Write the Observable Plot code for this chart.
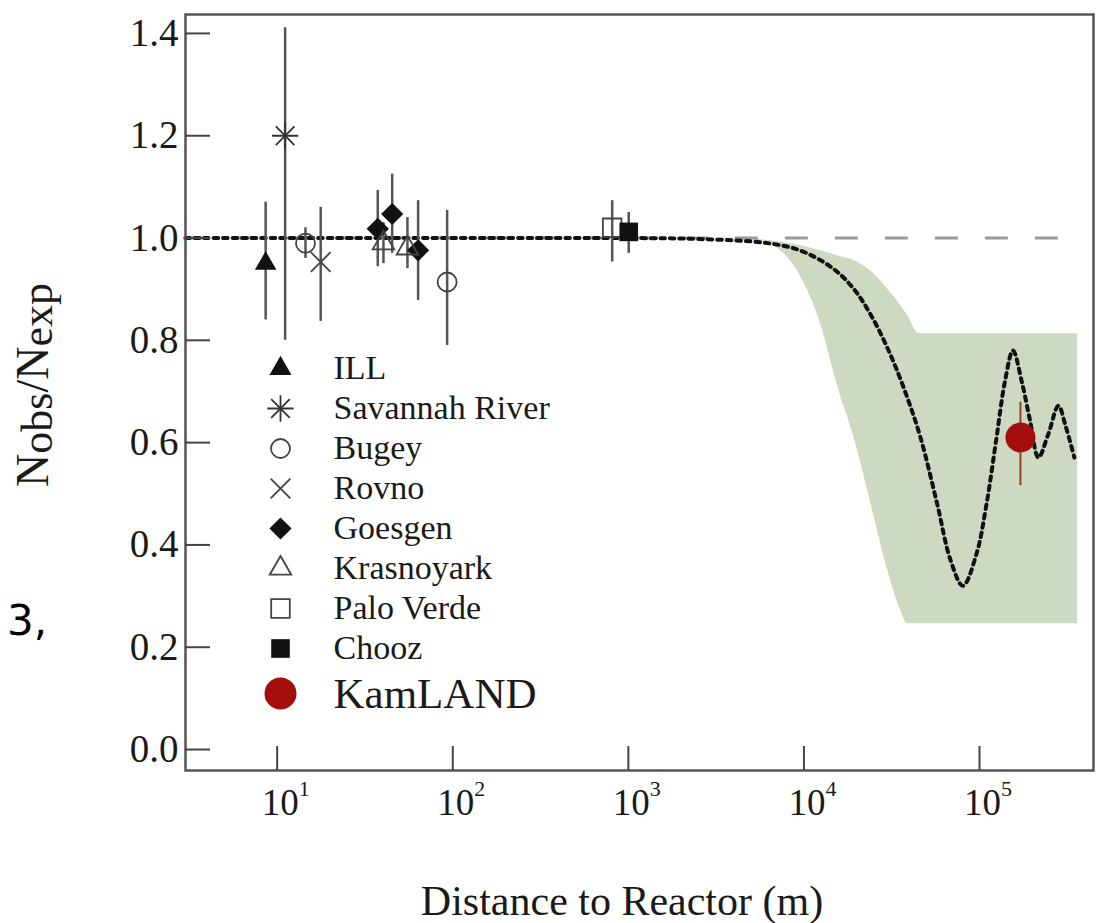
<!DOCTYPE html>
<html>
<head>
<meta charset="utf-8">
<script src="https://cdn.jsdelivr.net/npm/d3@7"></script>
<script src="https://cdn.jsdelivr.net/npm/@observablehq/plot@0.6"></script>
<style>
html, body { margin: 0; padding: 0; background: #fff; }
#wrap { position: relative; width: 1109px; height: 923px; overflow: hidden; background: #fff; }
#legend { position: absolute; left: 260px; top: 340px; }
</style>
</head>
<body>
<div id="wrap"><div id="chart"></div><div id="legend"></div></div>
<script>
// ---- data ----
const pointExperiment = ["ILL", "Savannah River", "Bugey", "Rovno", "Goesgen", "Krasnoyark", "Goesgen", "Krasnoyark", "Goesgen", "Bugey", "Palo Verde", "Chooz", "KamLAND"];
const pointDistance = [8.6, 11.1, 14.5, 17.7, 37.4, 40.3, 45.2, 55.2, 63.5, 92.9, 809, 1005, 171000];
const pointRatio    = [0.950, 1.200, 0.990, 0.953, 1.018, 0.990, 1.047, 0.980, 0.976, 0.914, 1.020, 1.012, 0.610];
const errLow        = [0.840, 0.800, 0.960, 0.837, 0.944, 0.950, 0.970, 0.940, 0.878, 0.790, 0.953, 0.970, 0.516];
const errHigh       = [1.070, 1.411, 1.020, 1.060, 1.093, 1.030, 1.125, 1.040, 1.073, 1.054, 1.073, 1.050, 0.679];

// oscillation curve (dotted)
const curveDistance = [3.0, 100, 1000, 2576, 6209, 9636, 14700, 19280, 24000, 29900, 37200, 46100, 57400, 68400, 80400, 96200, 109600, 125000, 139600, 155000, 173800, 194000, 216300, 246600, 281200, 310500, 346700];
const curveRatio    = [1.0, 1.0, 1.0, 0.998, 0.990, 0.975, 0.940, 0.900, 0.850, 0.785, 0.705, 0.610, 0.480, 0.370, 0.320, 0.383, 0.480, 0.610, 0.720, 0.780, 0.720, 0.643, 0.571, 0.617, 0.672, 0.630, 0.571];

// shaded allowed region
const bandDistance = [2576, 4966, 6209, 9636, 12510, 15630, 19280, 24100, 30000, 35560, 38990, 45080, 362100];
const bandUpper    = [1.0, 0.999, 0.995, 0.985, 0.975, 0.965, 0.956, 0.935, 0.900, 0.868, 0.848, 0.813, 0.813];
const bandLower    = [1.0, 0.996, 0.990, 0.923, 0.830, 0.708, 0.610, 0.480, 0.350, 0.272, 0.246, 0.246, 0.246];

const yTicks = [0.0, 0.2, 0.4, 0.6, 0.8, 1.0, 1.2, 1.4];
const xTicks = [10, 100, 1000, 10000, 100000];
const xTickExponents = ["1", "2", "3", "4", "5"];
const legendLabels = ["ILL", "Savannah River", "Bugey", "Rovno", "Goesgen", "Krasnoyark", "Palo Verde", "Chooz", "KamLAND"];

// ---- styles (a marker may be several stacked symbols) ----
const markerStyle = {
  "ILL":            [{symbol: "triangle", fill: "#111", stroke: "none", r: 8}],
  "Savannah River": [{symbol: "times", fill: "none", stroke: "#333", strokeWidth: 1.8, r: 8.5},
                     {symbol: "plus", fill: "none", stroke: "#333", strokeWidth: 1.8, r: 8.5}],
  "Bugey":          [{symbol: "circle", fill: "none", stroke: "#444", strokeWidth: 1.8, r: 9.5}],
  "Rovno":          [{symbol: "times", fill: "none", stroke: "#444", strokeWidth: 1.8, r: 9}],
  "Goesgen":        [{symbol: "diamond2", fill: "#111", stroke: "none", r: 10}],
  "Krasnoyark":     [{symbol: "triangle", fill: "none", stroke: "#444", strokeWidth: 1.8, r: 8}],
  "Palo Verde":     [{symbol: "square", fill: "none", stroke: "#444", strokeWidth: 1.8, r: 10.5}],
  "Chooz":          [{symbol: "square", fill: "#111", stroke: "none", r: 10.5}],
  "KamLAND":        [{symbol: "circle", fill: "#a50d0d", stroke: "none", r: 15}]
};

const points = pointExperiment.map((e, i) => ({exp: e, d: pointDistance[i], r: pointRatio[i], lo: errLow[i], hi: errHigh[i]}));
const curve = curveDistance.map((d, i) => ({d, r: curveRatio[i]}));
const band = bandDistance.map((d, i) => ({d, hi: bandUpper[i], lo: bandLower[i]}));

const serif = "'Liberation Serif', 'Times New Roman', serif";

const dotMarks = Object.keys(markerStyle).flatMap(exp =>
  markerStyle[exp].map(s => Plot.dot(points.filter(p => p.exp === exp), {x: "d", y: "r", ...s}))
);

const chart = Plot.plot({
  width: 1109,
  height: 923,
  marginLeft: 185,
  marginRight: 16,
  marginTop: 14,
  marginBottom: 153,
  style: {fontFamily: serif, background: "white", color: "#222"},
  x: {type: "log", domain: [3.006, 445700]},
  y: {domain: [-0.041, 1.437]},
  marks: [
    Plot.areaY(band, {x: "d", y1: "lo", y2: "hi", fill: "#cdd9c1", curve: "monotone-x"}),
    Plot.ruleY([1], {x1: d3.min(curveDistance), x2: d3.max(curveDistance), stroke: "#9a9a9a", strokeWidth: 3, strokeDasharray: "23,27"}),
    Plot.line(curve, {x: "d", y: "r", stroke: "#111", strokeWidth: 4, strokeDasharray: "4.5,5", curve: "catmull-rom"}),
    Plot.ruleX(points.filter(p => p.exp !== "KamLAND"), {x: "d", y1: "lo", y2: "hi", stroke: "#555", strokeWidth: 2.5}),
    Plot.ruleX(points.filter(p => p.exp === "KamLAND"), {x: "d", y1: "lo", y2: "hi", stroke: "#9b3a2a", strokeWidth: 2}),
    ...dotMarks,
    Plot.frame({stroke: "#555", strokeWidth: 2.5}),
    Plot.axisY(yTicks, {tickSize: -25, tickFormat: () => "", stroke: "#444", strokeWidth: 2, label: null}),
    Plot.axisY(yTicks, {tickSize: 0, tickPadding: 7, tickFormat: d3.format(".1f"), fontSize: 39, fill: "#1a1a1a", label: null}),
    Plot.axisX(xTicks, {tickSize: -24, tickFormat: () => "", stroke: "#444", strokeWidth: 2, label: null}),
    Plot.text(xTicks, {x: d => d, frameAnchor: "bottom", text: () => "10", dx: 3, dy: 18, fontSize: 37, lineAnchor: "top", fill: "#1a1a1a"}),
    Plot.text(xTicks, {x: d => d, frameAnchor: "bottom", text: (d, i) => xTickExponents[i], dx: 27, dy: 10, fontSize: 22, lineAnchor: "top", fill: "#1a1a1a"})
  ]
});
document.getElementById("chart").appendChild(chart);

const svg = d3.select(chart);
// y-axis title with subscripts
const yt = svg.append("text")
  .attr("transform", "translate(48,385) rotate(-90)")
  .attr("text-anchor", "middle")
  .attr("font-family", serif)
  .attr("font-size", 46)
  .attr("fill", "#1a1a1a");
yt.append("tspan").text("N");
yt.append("tspan").attr("dy", 4).attr("font-size", 44).text("obs");
yt.append("tspan").attr("dy", -4).text("/N");
yt.append("tspan").attr("dy", 4).attr("font-size", 44).text("exp");

// x-axis title
svg.append("text")
  .attr("x", 622).attr("y", 915)
  .attr("text-anchor", "middle")
  .attr("font-family", serif)
  .attr("font-size", 42)
  .attr("fill", "#1a1a1a")
  .text("Distance to Reactor (m)");

// stray slide text at left edge
svg.append("text")
  .attr("x", 7).attr("y", 635)
  .attr("text-anchor", "start")
  .attr("font-family", "'DejaVu Sans', sans-serif")
  .attr("font-size", 42)
  .attr("fill", "#000")
  .text("3,");

// ---- legend (own small Plot, overlaid) ----
const legendMarks = legendLabels.flatMap(lab =>
  markerStyle[lab].map(st => {
    const s = {...st};
    if (lab === "KamLAND") { s.r = 16; s.dy = 5; }
    if (lab === "ILL") s.r = 8.2;
    return Plot.dot([lab], {y: d => d, frameAnchor: "left", dx: 20, ...s});
  })
);
const legend = Plot.plot({
  width: 320,
  height: 380,
  marginTop: 28,
  marginBottom: 32,
  marginLeft: 0,
  marginRight: 0,
  style: {fontFamily: serif, background: "transparent", color: "#222"},
  y: {type: "point", domain: legendLabels, padding: 0, axis: null},
  marks: [
    ...legendMarks,
    Plot.text(legendLabels.filter(l => l !== "KamLAND"), {y: d => d, text: d => d, frameAnchor: "left", dx: 73, textAnchor: "start", fontSize: 34, fill: "#1a1a1a"}),
    Plot.text(["KamLAND"], {y: d => d, text: d => d, frameAnchor: "left", dx: 73, dy: 6, textAnchor: "start", fontSize: 43, fill: "#1a1a1a"})
  ]
});
document.getElementById("legend").appendChild(legend);
</script>
</body>
</html>
